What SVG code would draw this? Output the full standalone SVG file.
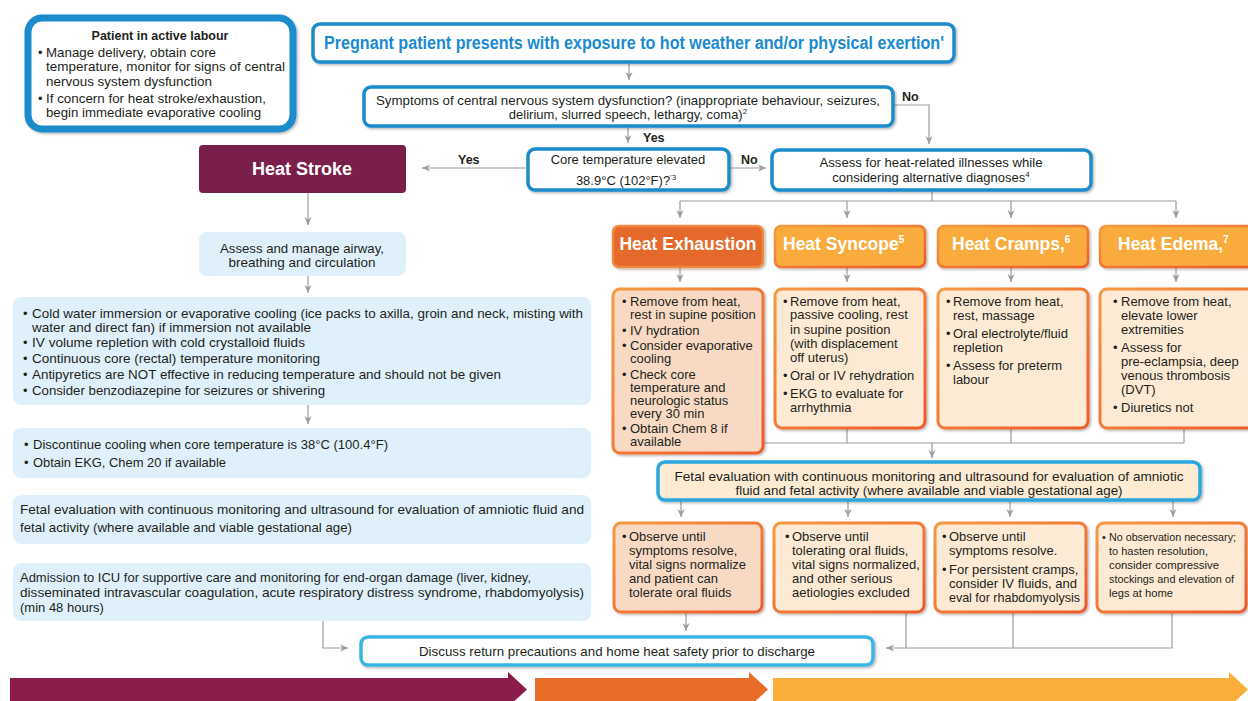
<svg xmlns="http://www.w3.org/2000/svg" width="1248" height="701" viewBox="0 0 1248 701">
  <defs>
    <style>
      .t { font-family: "Liberation Sans", Arial, sans-serif; font-size: 13px; fill: #231f20; }
      .b { font-weight: bold; }
      .c { text-anchor: middle; }
      .sm { font-size: 11.2px; }
      .lbl { font-family: "Liberation Sans", Arial, sans-serif; font-size: 12.5px; font-weight: bold; fill: #231f20; }
      .hd { font-family: "Liberation Sans", Arial, sans-serif; font-size: 17.5px; font-weight: bold; fill: #ffffff; }
      .conn { stroke: #9d9d9d; stroke-width: 1.2; fill: none; }
      .arr { marker-end: url(#ah); }
      .blue { fill: #ffffff; stroke: #1b8bcb; stroke-width: 3.5; }
      .lblue { fill: #ffffff; stroke: #3bb4e6; stroke-width: 3.5; }
      .pale { fill: #dff0fb; }
      .card { fill: #fdead4; stroke: url(#og); stroke-width: 3; }
      .card-dk { fill: #f8dac4; stroke: url(#og); stroke-width: 3; }
      .hdr { fill: #f9ac3c; stroke: url(#og); stroke-width: 2.5; }
      .hdr-dk { fill: #e5692b; stroke: #f08a40; stroke-width: 2.5; }
    </style>
    <marker id="ah" viewBox="0 0 10 10" refX="10" refY="5" markerWidth="8" markerHeight="8" markerUnits="userSpaceOnUse" orient="auto">
      <path d="M0,0.5 L10,5 L0,9.5 L3,5 Z" fill="#9d9d9d"/>
    </marker>
    <linearGradient id="og" x1="0" y1="0" x2="1" y2="1">
      <stop offset="0" stop-color="#f59a42"/>
      <stop offset="1" stop-color="#ee5a2b"/>
    </linearGradient>
    <filter id="sh" x="-5%" y="-10%" width="115%" height="130%">
      <feDropShadow dx="1.5" dy="1.5" stdDeviation="1.2" flood-color="#000000" flood-opacity="0.28"/>
    </filter>
  </defs>

  <!-- connectors -->
  <g id="connectors">
    <path class="conn arr" d="M629,63 V80"/>
    <path class="conn arr" d="M628,126 V143"/>
    <path class="conn arr" d="M894,105 H929 V144"/>
    <path class="conn arr" d="M526,168 H422"/>
    <path class="conn arr" d="M731,168 H766"/>
    <path class="conn" d="M932,190 V201 M680,201 H1176"/>
    <path class="conn arr" d="M680,201 V218"/>
    <path class="conn arr" d="M847,201 V218"/>
    <path class="conn arr" d="M1011,201 V218"/>
    <path class="conn arr" d="M1176,201 V218"/>
    <path class="conn arr" d="M680,267 V282"/>
    <path class="conn arr" d="M847,267 V282"/>
    <path class="conn arr" d="M1011,267 V282"/>
    <path class="conn arr" d="M1176,267 V282"/>
    <path class="conn" d="M847,428 V443 M1011,428 V443 M1184,428 V443 M764,443 H1184"/>
    <path class="conn arr" d="M932,443 V458"/>
    <path class="conn arr" d="M681,500 V517"/>
    <path class="conn arr" d="M848,500 V517"/>
    <path class="conn arr" d="M1010,500 V517"/>
    <path class="conn arr" d="M1173,500 V517"/>
    <path class="conn arr" d="M686,612 V631"/>
    <path class="conn" d="M906,612 V648 M1013,612 V648"/>
    <path class="conn arr" d="M1172,612 V648 H886"/>
    <path class="conn arr" d="M323,621 V648 H348"/>
    <path class="conn arr" d="M308,193 V225"/>
    <path class="conn arr" d="M308,276 V293"/>
    <path class="conn arr" d="M308,405 V424"/>
  </g>

  <!-- patient in labour -->
  <g id="labour">
    <rect x="28" y="18" width="265" height="111" rx="14" fill="#ffffff" stroke="#1b8bcb" stroke-width="7" filter="url(#sh)"/>
    <text class="t b c" x="160" y="40" style="font-size:12.5px">Patient in active labour</text>
    <text class="t" y="57"><tspan x="38">•</tspan><tspan x="46" textLength="170" lengthAdjust="spacingAndGlyphs">Manage delivery, obtain core</tspan></text>
    <text class="t" x="46" y="71" textLength="239" lengthAdjust="spacingAndGlyphs">temperature, monitor for signs of central</text>
    <text class="t" x="46" y="86" textLength="166" lengthAdjust="spacingAndGlyphs">nervous system dysfunction</text>
    <text class="t" y="103"><tspan x="38">•</tspan><tspan x="46" textLength="220" lengthAdjust="spacingAndGlyphs">If concern for heat stroke/exhaustion,</tspan></text>
    <text class="t" x="46" y="117" textLength="215" lengthAdjust="spacingAndGlyphs">begin immediate evaporative cooling</text>
  </g>

  <!-- entry -->
  <g id="presents">
    <rect class="blue" x="313" y="24" width="641" height="38" rx="7" filter="url(#sh)"/>
    <text class="t b c" x="634" y="49" style="font-size:17.5px;fill:#1a8ad0" textLength="620" lengthAdjust="spacingAndGlyphs">Pregnant patient presents with exposure to hot weather and/or physical exertion'</text>
  </g>

  <g id="cns">
    <rect class="blue" x="364" y="87" width="529" height="39" rx="7" filter="url(#sh)"/>
    <text class="t c" x="628" y="105" textLength="504" lengthAdjust="spacingAndGlyphs">Symptoms of central nervous system dysfunction? (inappropriate behaviour, seizures,</text>
    <text class="t c" x="628" y="119">delirium, slurred speech, lethargy, coma)<tspan font-size="8" dy="-5">2</tspan></text>
  </g>
  <text class="lbl" x="902" y="101">No</text>
  <text class="lbl" x="643" y="142">Yes</text>

  <g id="core-temp">
    <rect class="blue" x="528" y="149" width="201" height="41" rx="7" filter="url(#sh)"/>
    <text class="t c" x="628" y="164">Core temperature elevated</text>
    <text class="t c" x="626" y="185">38.9°C (102°F)?<tspan font-size="8" dy="-5">'3</tspan></text>
  </g>
  <text class="lbl" x="458" y="164">Yes</text>
  <text class="lbl" x="741" y="164">No</text>

  <g id="assess-heat">
    <rect class="blue" x="772" y="150" width="319" height="40" rx="7" filter="url(#sh)"/>
    <text class="t c" x="931" y="167" textLength="223" lengthAdjust="spacingAndGlyphs">Assess for heat-related illnesses while</text>
    <text class="t c" x="931" y="182">considering alternative diagnoses<tspan font-size="8" dy="-5">4</tspan></text>
  </g>

  <!-- heat stroke pathway -->
  <g id="heat-stroke">
    <rect x="199" y="145" width="207" height="48" rx="4" fill="#7a1f4b"/>
    <text class="hd c" x="302" y="175" style="font-size:18px">Heat Stroke</text>
  </g>

  <g id="abc">
    <rect class="pale" x="199" y="232" width="207" height="44" rx="8"/>
    <text class="t c" x="302" y="253" textLength="164" lengthAdjust="spacingAndGlyphs">Assess and manage airway,</text>
    <text class="t c" x="302" y="267" textLength="147" lengthAdjust="spacingAndGlyphs">breathing and circulation</text>
  </g>

  <g id="cooling">
    <rect class="pale" x="13" y="297" width="578" height="108" rx="8"/>
    <text class="t" y="318"><tspan x="23">•</tspan><tspan x="32" textLength="551" lengthAdjust="spacingAndGlyphs">Cold water immersion or evaporative cooling (ice packs to axilla, groin and neck, misting with</tspan></text>
    <text class="t" x="32" y="332" textLength="279" lengthAdjust="spacingAndGlyphs">water and direct fan) if immersion not available</text>
    <text class="t" y="347"><tspan x="23">•</tspan><tspan x="32" textLength="273" lengthAdjust="spacingAndGlyphs">IV volume repletion with cold crystalloid fluids</tspan></text>
    <text class="t" y="363"><tspan x="23">•</tspan><tspan x="32" textLength="288" lengthAdjust="spacingAndGlyphs">Continuous core (rectal) temperature monitoring</tspan></text>
    <text class="t" y="379"><tspan x="23">•</tspan><tspan x="32" textLength="469" lengthAdjust="spacingAndGlyphs">Antipyretics are NOT effective in reducing temperature and should not be given</tspan></text>
    <text class="t" y="395"><tspan x="23">•</tspan><tspan x="32" textLength="293" lengthAdjust="spacingAndGlyphs">Consider benzodiazepine for seizures or shivering</tspan></text>
  </g>

  <g id="discontinue">
    <rect class="pale" x="13" y="428" width="578" height="50" rx="8"/>
    <text class="t" y="449"><tspan x="24">•</tspan><tspan x="33" textLength="355" lengthAdjust="spacingAndGlyphs">Discontinue cooling when core temperature is 38°C (100.4°F)</tspan></text>
    <text class="t" y="467"><tspan x="24">•</tspan><tspan x="33" textLength="193" lengthAdjust="spacingAndGlyphs">Obtain EKG, Chem 20 if available</tspan></text>
  </g>

  <g id="fetal-stroke">
    <rect class="pale" x="13" y="495" width="578" height="49" rx="8"/>
    <text class="t" x="20" y="514" textLength="564" lengthAdjust="spacingAndGlyphs">Fetal evaluation with continuous monitoring and ultrasound for evaluation of amniotic fluid and</text>
    <text class="t" x="20" y="532" textLength="332" lengthAdjust="spacingAndGlyphs">fetal activity (where available and viable gestational age)</text>
  </g>

  <g id="icu">
    <rect class="pale" x="13" y="563" width="578" height="58" rx="8"/>
    <text class="t" x="20" y="582" textLength="511" lengthAdjust="spacingAndGlyphs">Admission to ICU for supportive care and monitoring for end-organ damage (liver, kidney,</text>
    <text class="t" x="20" y="597" textLength="564" lengthAdjust="spacingAndGlyphs">disseminated intravascular coagulation, acute respiratory distress syndrome, rhabdomyolysis)</text>
    <text class="t" x="20" y="612">(min 48 hours)</text>
  </g>

  <!-- heat-related illness headers -->
  <g id="exhaustion-hdr">
    <rect class="hdr-dk" x="613" y="226" width="150" height="41" rx="6" filter="url(#sh)"/>
    <text class="hd c" x="688" y="250">Heat Exhaustion</text>
  </g>
  <g id="syncope-hdr">
    <rect class="hdr" x="775" y="226" width="150" height="41" rx="6" filter="url(#sh)"/>
    <text class="hd" x="783" y="250">Heat Syncope<tspan font-size="10" dy="-7">5</tspan></text>
  </g>
  <g id="cramps-hdr">
    <rect class="hdr" x="938" y="226" width="150" height="41" rx="6" filter="url(#sh)"/>
    <text class="hd" x="952" y="250">Heat Cramps,<tspan font-size="10" dy="-7">6</tspan></text>
  </g>
  <g id="edema-hdr">
    <rect class="hdr" x="1100" y="226" width="154" height="41" rx="6" filter="url(#sh)"/>
    <text class="hd" x="1118" y="250">Heat Edema,<tspan font-size="10" dy="-7">7</tspan></text>
  </g>

  <!-- management cards -->
  <g id="exhaustion-care">
    <rect class="card-dk" x="613" y="289" width="150" height="164" rx="7" filter="url(#sh)"/>
    <text class="t" y="306"><tspan x="622">•</tspan><tspan x="630">Remove from heat,</tspan></text>
    <text class="t" x="630" y="319">rest in supine position</text>
    <text class="t" y="335"><tspan x="622">•</tspan><tspan x="630">IV hydration</tspan></text>
    <text class="t" y="350"><tspan x="622">•</tspan><tspan x="630">Consider evaporative</tspan></text>
    <text class="t" x="630" y="363">cooling</text>
    <text class="t" y="379"><tspan x="622">•</tspan><tspan x="630">Check core</tspan></text>
    <text class="t" x="630" y="392">temperature and</text>
    <text class="t" x="630" y="405">neurologic status</text>
    <text class="t" x="630" y="418">every 30 min</text>
    <text class="t" y="433"><tspan x="622">•</tspan><tspan x="630">Obtain Chem 8 if</tspan></text>
    <text class="t" x="630" y="446">available</text>
  </g>
  <g id="syncope-care">
    <rect class="card" x="775" y="289" width="150" height="139" rx="7" filter="url(#sh)"/>
    <text class="t" y="306"><tspan x="783">•</tspan><tspan x="790">Remove from heat,</tspan></text>
    <text class="t" x="790" y="319">passive cooling, rest</text>
    <text class="t" x="790" y="334">in supine position</text>
    <text class="t" x="790" y="348">(with displacement</text>
    <text class="t" x="790" y="362">off uterus)</text>
    <text class="t" y="380"><tspan x="783">•</tspan><tspan x="790">Oral or IV rehydration</tspan></text>
    <text class="t" y="398"><tspan x="783">•</tspan><tspan x="790">EKG to evaluate for</tspan></text>
    <text class="t" x="790" y="412">arrhythmia</text>
  </g>
  <g id="cramps-care">
    <rect class="card" x="938" y="289" width="150" height="139" rx="7" filter="url(#sh)"/>
    <text class="t" y="306"><tspan x="946">•</tspan><tspan x="953">Remove from heat,</tspan></text>
    <text class="t" x="953" y="320">rest, massage</text>
    <text class="t" y="338"><tspan x="946">•</tspan><tspan x="953">Oral electrolyte/fluid</tspan></text>
    <text class="t" x="953" y="352">repletion</text>
    <text class="t" y="370"><tspan x="946">•</tspan><tspan x="953">Assess for preterm</tspan></text>
    <text class="t" x="953" y="384">labour</text>
  </g>
  <g id="edema-care">
    <rect class="card" x="1100" y="289" width="154" height="139" rx="7" filter="url(#sh)"/>
    <text class="t" y="306"><tspan x="1113">•</tspan><tspan x="1121">Remove from heat,</tspan></text>
    <text class="t" x="1121" y="320">elevate lower</text>
    <text class="t" x="1121" y="334">extremities</text>
    <text class="t" y="352"><tspan x="1113">•</tspan><tspan x="1121">Assess for</tspan></text>
    <text class="t" x="1121" y="366">pre-eclampsia, deep</text>
    <text class="t" x="1121" y="380">venous thrombosis</text>
    <text class="t" x="1121" y="394">(DVT)</text>
    <text class="t" y="412"><tspan x="1113">•</tspan><tspan x="1121">Diuretics not</tspan></text>
  </g>

  <!-- fetal evaluation, milder illnesses -->
  <g id="fetal-mild">
    <rect x="658" y="462" width="542" height="38" rx="7" fill="#fdebd3" stroke="#2aa7df" stroke-width="3.5" filter="url(#sh)"/>
    <text class="t c" x="929" y="481" textLength="509" lengthAdjust="spacingAndGlyphs">Fetal evaluation with continuous monitoring and ultrasound for evaluation of amniotic</text>
    <text class="t c" x="929" y="495" textLength="387" lengthAdjust="spacingAndGlyphs">fluid and fetal activity (where available and viable gestational age)</text>
  </g>

  <!-- observation cards -->
  <g id="exhaustion-obs">
    <rect class="card-dk" x="614" y="523" width="148" height="89" rx="7" filter="url(#sh)"/>
    <text class="t" y="541"><tspan x="622">•</tspan><tspan x="629">Observe until</tspan></text>
    <text class="t" x="629" y="555">symptoms resolve,</text>
    <text class="t" x="629" y="569">vital signs normalize</text>
    <text class="t" x="629" y="583">and patient can</text>
    <text class="t" x="629" y="597">tolerate oral fluids</text>
  </g>
  <g id="syncope-obs">
    <rect class="card" x="774" y="523" width="150" height="89" rx="7" filter="url(#sh)"/>
    <text class="t" y="541"><tspan x="785">•</tspan><tspan x="792">Observe until</tspan></text>
    <text class="t" x="792" y="555">tolerating oral fluids,</text>
    <text class="t" x="792" y="569">vital signs normalized,</text>
    <text class="t" x="792" y="583">and other serious</text>
    <text class="t" x="792" y="597">aetiologies excluded</text>
  </g>
  <g id="cramps-obs">
    <rect class="card" x="935" y="523" width="151" height="89" rx="7" filter="url(#sh)"/>
    <text class="t" y="541"><tspan x="942">•</tspan><tspan x="949">Observe until</tspan></text>
    <text class="t" x="949" y="555">symptoms resolve.</text>
    <text class="t" y="574"><tspan x="942">•</tspan><tspan x="949">For persistent cramps,</tspan></text>
    <text class="t" x="949" y="588">consider IV fluids, and</text>
    <text class="t" x="949" y="602" textLength="131" lengthAdjust="spacingAndGlyphs">eval for rhabdomyolysis</text>
  </g>
  <g id="edema-obs">
    <rect class="card" x="1097" y="523" width="149" height="89" rx="7" filter="url(#sh)"/>
    <text class="t sm" y="541"><tspan x="1102">•</tspan><tspan x="1109" textLength="127" lengthAdjust="spacingAndGlyphs">No observation necessary;</tspan></text>
    <text class="t sm" x="1109" y="555" textLength="99" lengthAdjust="spacingAndGlyphs">to hasten resolution,</text>
    <text class="t sm" x="1109" y="569" textLength="110" lengthAdjust="spacingAndGlyphs">consider compressive</text>
    <text class="t sm" x="1109" y="583" textLength="125" lengthAdjust="spacingAndGlyphs">stockings and elevation of</text>
    <text class="t sm" x="1109" y="597" textLength="64" lengthAdjust="spacingAndGlyphs">legs at home</text>
  </g>

  <!-- discharge -->
  <g id="discharge">
    <rect class="lblue" x="361" y="637" width="512" height="28" rx="7" filter="url(#sh)"/>
    <text class="t c" x="617" y="656" textLength="396" lengthAdjust="spacingAndGlyphs">Discuss return precautions and home heat safety prior to discharge</text>
  </g>

  <!-- severity band -->
  <g id="severity-band">
    <polygon points="10,678 508,678 508,672 527,689.5 508,707 10,707" fill="#8a1c4b"/>
    <polygon points="535,678 749,678 749,672 768,689.5 749,707 535,707" fill="#e66c28"/>
    <polygon points="773,678 1229,678 1229,672 1248,689.5 1229,707 773,707" fill="#f9ae3b"/>
  </g>
</svg>
